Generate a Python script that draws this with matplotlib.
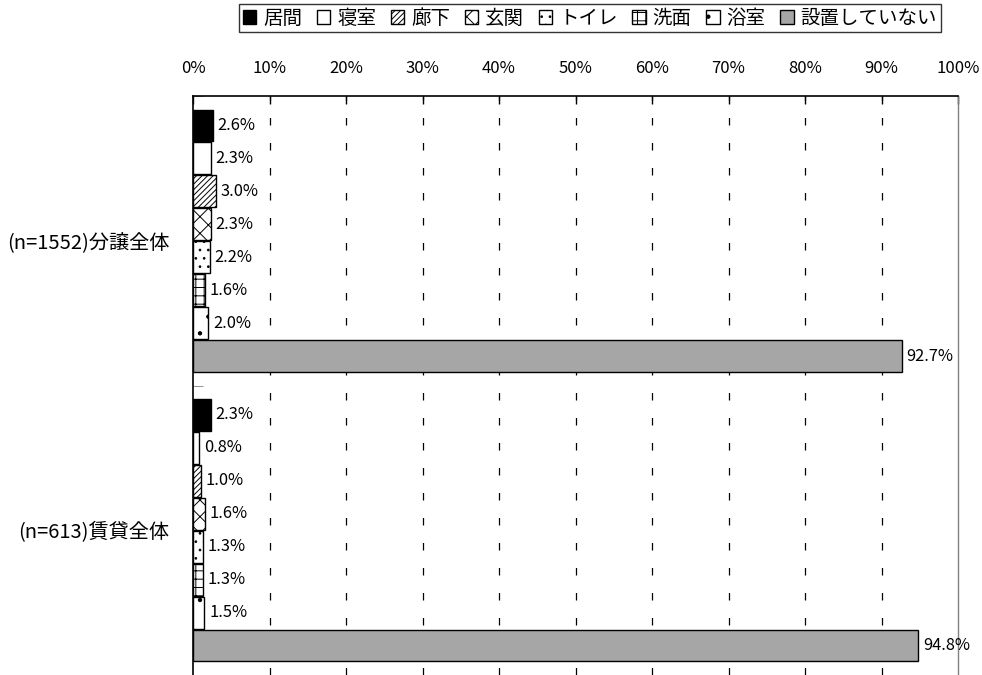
import matplotlib.pyplot as plt
import numpy as np

plt.rcParams['font.family'] = ['Noto Sans CJK JP', 'DejaVu Sans']
plt.rcParams['hatch.linewidth'] = 0.7

# data
groups = ['(n=1552)分譲全体', '(n=613)賃貸全体']
places = ['居間', '寝室', '廊下', '玄関', 'トイレ', '洗面', '浴室', '設置していない']
bunjo = [2.6, 2.3, 3.0, 2.3, 2.2, 1.6, 2.0, 92.7]
chintai = [2.3, 0.8, 1.0, 1.6, 1.3, 1.3, 1.5, 94.8]
ticks = [0, 10, 20, 30, 40, 50, 60, 70, 80, 90, 100]

colors = ['black', 'white', 'white', 'white', 'white', 'white', 'white', '#a6a6a6']
hatches = [None, None, '//////', 'xx', '..', '++', '.', None]

fig = plt.figure(figsize=(9.82, 6.75), dpi=100)
ax = fig.add_axes([193/982, 0.0, 765/982, 1 - 96/675 - 0.0])

vals = np.array([bunjo, chintai])
n = len(places)
pitch = 0.1138
bh = 0.11
y0 = np.arange(len(groups))
handles = []
for i in range(n):
    ypos = y0 - (n - 1) / 2 * pitch + i * pitch
    b = ax.barh(ypos, vals[:, i], height=bh, color=colors[i], edgecolor='black',
                linewidth=1.0, hatch=hatches[i], label=places[i])
    handles.append(b)
    for y, v in zip(ypos, vals[:, i]):
        ax.text(v + 0.6, y, f'{v:.1f}%', va='center', ha='left', fontsize=11.8,
                clip_on=False)

ax.set_xlim(0, 100)
ax.set_ylim(1.5, -0.5)
ax.xaxis.tick_top()
ax.set_xticks(ticks)
ax.set_xticklabels([f'{t}%' for t in ticks], fontsize=12)
ax.tick_params(axis='x', direction='in', length=6, width=1, pad=14, top=True, bottom=False)
for t in ticks[1:-1]:
    ax.axvline(t, color='black', linewidth=0.9, linestyle=(0, (6, 14)), zorder=0)

ax.set_yticks(y0)
ax.set_yticklabels(groups, fontsize=14.5)
ax.tick_params(axis='y', length=0, pad=17)
ax.set_yticks([-0.5, 0.5, 1.5], minor=True)
ax.tick_params(axis='y', which='minor', direction='in', length=7, color='gray')

ax.spines['bottom'].set_visible(False)
ax.spines['right'].set_color('gray')
ax.spines['right'].set_linewidth(1.0)
ax.spines['left'].set_linewidth(1.2)
ax.spines['top'].set_linewidth(1.2)

leg = fig.legend(handles=handles, loc='center', bbox_to_anchor=(590/982, 1 - 18/675),
                 ncol=8, fontsize=14, frameon=True, fancybox=False,
                 handlelength=0.7, handleheight=0.7, handletextpad=0.35,
                 columnspacing=0.75, borderpad=0.2)
leg.get_frame().set_edgecolor('black')
leg.get_frame().set_linewidth(1.0)

fig.savefig('out.png', dpi=100)
